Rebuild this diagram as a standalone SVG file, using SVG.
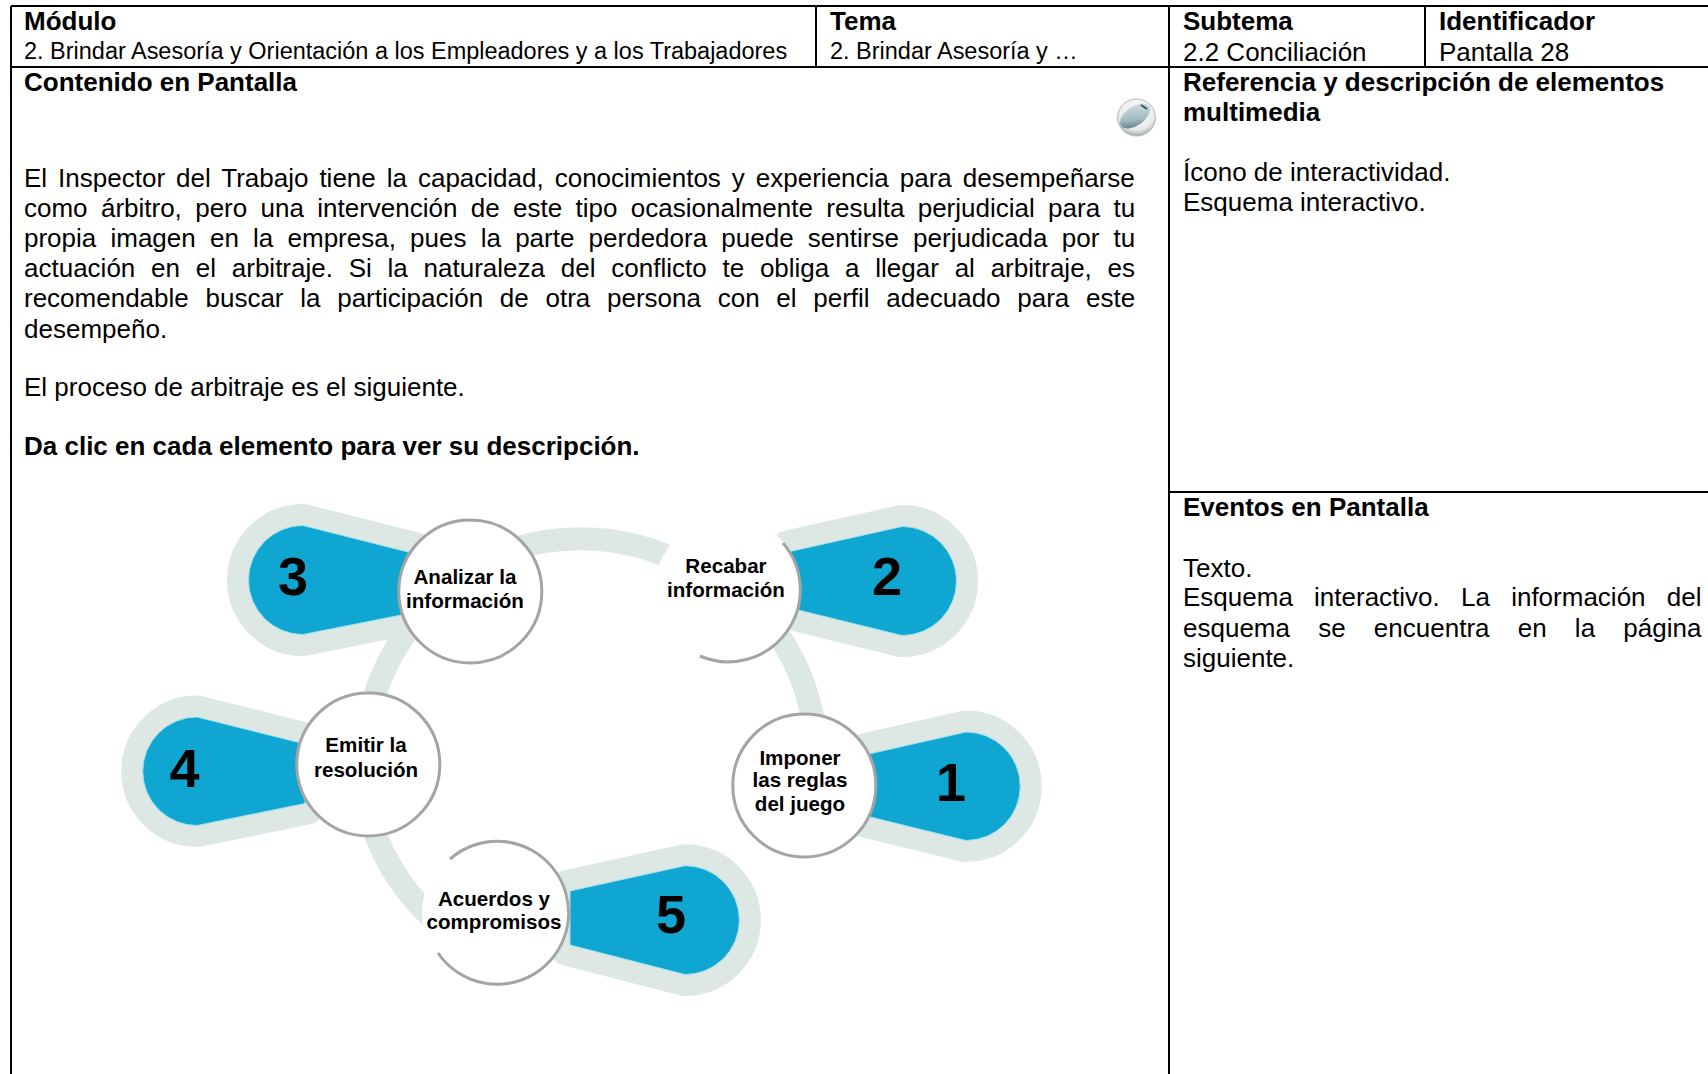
<svg xmlns="http://www.w3.org/2000/svg" width="1708" height="1074" viewBox="0 0 1708 1074">
<defs>
<radialGradient id="mouseBg" cx="50%" cy="35%" r="70%"><stop offset="0" stop-color="#ffffff"/><stop offset="0.7" stop-color="#e8eaea"/><stop offset="1" stop-color="#8f9494"/></radialGradient>
<linearGradient id="mouseBody" x1="1" y1="0" x2="0" y2="1"><stop offset="0" stop-color="#dbe6ea"/><stop offset="0.6" stop-color="#a3bac2"/><stop offset="1" stop-color="#45656f"/></linearGradient>
</defs>
<style>
text{font-family:"Liberation Sans",Arial,sans-serif;fill:#000}
.t{font-size:26px}
.s{font-size:23.47px}
.b{font-size:26px;font-weight:700}
.lab{font-size:20.6px;font-weight:700;text-anchor:middle}
.num{font-size:54px;font-weight:700;text-anchor:middle}
.grid{stroke:#000;stroke-width:2;fill:none}
.halo{fill:#dde8e4;stroke:#dde8e4;stroke-width:43;stroke-linejoin:round}
.blue{fill:#0fa7d1;stroke:#9fe0ee;stroke-width:1}
.disc{fill:#fff;stroke:#a4a4a4;stroke-width:3}
.bare{fill:#fff}
.rim{fill:none;stroke:#a4a4a4;stroke-width:3}
.ring{fill:none;stroke:#dde8e4;stroke-width:23}
</style>
<rect width="1708" height="1074" fill="#fff"/>
<g id="table" class="grid">
<path d="M11 6H1708M11 6V1074M816 6V67M1169 6V1074M1425 6V67M11 67H1708M1169 492H1708"/>
</g>
<g id="header">
<text class="b" x="24" y="30">Módulo</text>
<text class="s" x="24" y="59">2. Brindar Asesoría y Orientación a los Empleadores y a los Trabajadores</text>
<text class="b" x="830" y="30">Tema</text>
<text class="s" x="830" y="59">2. Brindar Asesoría y …</text>
<text class="b" x="1183" y="30">Subtema</text>
<text class="t" x="1183" y="61">2.2 Conciliación</text>
<text class="b" x="1439" y="30">Identificador</text>
<text class="t" x="1439" y="61">Pantalla 28</text>
</g>
<g id="contenido">
<text class="b" x="24" y="91">Contenido en Pantalla</text>
<text class="t" x="24" y="186.500" word-spacing="3.75">El Inspector del Trabajo tiene la capacidad, conocimientos y experiencia para desempeñarse</text>
<text class="t" x="24" y="216.700" word-spacing="6.12">como árbitro, pero una intervención de este tipo ocasionalmente resulta perjudicial para tu</text>
<text class="t" x="24" y="246.900" word-spacing="6.98">propia imagen en la empresa, pues la parte perdedora puede sentirse perjudicada por tu</text>
<text class="t" x="24" y="277.100" word-spacing="8.55">actuación en el arbitraje. Si la naturaleza del conflicto te obliga a llegar al arbitraje, es</text>
<text class="t" x="24" y="307.300" word-spacing="9.49">recomendable buscar la participación de otra persona con el perfil adecuado para este</text>
<text class="t" x="24" y="337.500">desempeño.</text>
<text class="t" x="24" y="396">El proceso de arbitraje es el siguiente.</text>
<text class="b" x="24" y="455">Da clic en cada elemento para ver su descripción.</text>
</g>
<g id="mouse-icon">
<ellipse cx="1136.500" cy="117.500" rx="19" ry="18.500" fill="url(#mouseBg)" stroke="#b5b9b9" stroke-width="1"/>
<ellipse cx="1135" cy="116" rx="17" ry="9.500" transform="rotate(-35 1135 116)" fill="url(#mouseBody)"/>
<path d="M1141 105l6 4" stroke="#39525a" stroke-width="2" fill="none"/>
</g>
<g id="referencia">
<text class="b" x="1183" y="91">Referencia y descripción de elementos</text>
<text class="b" x="1183" y="121">multimedia</text>
<text class="t" x="1183" y="180.500">Ícono de interactividad.</text>
<text class="t" x="1183" y="211">Esquema interactivo.</text>
</g>
<g id="eventos">
<text class="b" x="1183" y="516">Eventos en Pantalla</text>
<text class="t" x="1183" y="577">Texto.</text>
<text class="t" x="1183" y="605.500" word-spacing="14">Esquema interactivo. La información del</text>
<text class="t" x="1183" y="637" word-spacing="21">esquema se encuentra en la página</text>
<text class="t" x="1183" y="667">siguiente.</text>
</g>
<g id="connectors">
<path class="ring" d="M510 550A225 225 0 0 1 680 562"/>
<path class="ring" d="M775 630A225 225 0 0 1 814 725"/>
<path class="ring" d="M412 625A225 225 0 0 0 372 705"/>
<path class="ring" d="M372 825A225 225 0 0 0 440 925"/>
</g>
<g id="node-3">
<path class="halo" d="M303 525.500L414 553.500V612.500L303 634.500A54.500 54.500 0 0 1 303 525.500Z"/>
<path class="blue" d="M303 525.500L414 553.500V612.500L303 634.500A54.500 54.500 0 0 1 303 525.500Z"/>
<circle class="disc" cx="470.300" cy="591.400" r="71.500"/>
<text class="lab" x="465" y="584.300">Analizar la</text>
<text class="lab" x="465" y="608.100">información</text>
<text class="num" x="293" y="594.700">3</text>
</g>
<g id="node-4">
<path class="halo" d="M197 717L305 744V803.500L197 825.500A54.250 54.250 0 0 1 197 717Z"/>
<path class="blue" d="M197 717L305 744V803.500L197 825.500A54.250 54.250 0 0 1 197 717Z"/>
<circle class="disc" cx="368.300" cy="764.400" r="71.500"/>
<text class="lab" x="366" y="752.200">Emitir la</text>
<text class="lab" x="366" y="776.500">resolución</text>
<text class="num" x="184.500" y="786.800">4</text>
</g>
<g id="node-5">
<path class="halo" d="M685 865.700L570 891V945L685 974.500A54.400 54.400 0 0 0 685 865.700Z"/>
<path class="blue" d="M685 865.700L570 891V945L685 974.500A54.400 54.400 0 0 0 685 865.700Z"/>
<circle class="bare" cx="496" cy="913" r="74"/>
<path class="rim" d="M450 859A71.500 71.500 0 1 1 438 953"/>
<text class="lab" x="494" y="906.100">Acuerdos y</text>
<text class="lab" x="494" y="928.800">compromisos</text>
<text class="num" x="671" y="932.500">5</text>
</g>
<g id="node-2">
<path class="halo" d="M902 526.500L790 551.500V608L902 635.500A54.500 54.500 0 0 0 902 526.500Z"/>
<path class="blue" d="M902 526.500L790 551.500V608L902 635.500A54.500 54.500 0 0 0 902 526.500Z"/>
<circle class="bare" cx="728" cy="589.500" r="73"/>
<path class="rim" d="M783 543A72 72 0 0 1 700 656"/>
<text class="lab" x="726" y="573">Recabar</text>
<text class="lab" x="726" y="597.300">información</text>
<text class="num" x="887" y="594.700">2</text>
</g>
<g id="node-1">
<path class="halo" d="M966 732L860 756V814.500L966 840.500A54.250 54.250 0 0 0 966 732Z"/>
<path class="blue" d="M966 732L860 756V814.500L966 840.500A54.250 54.250 0 0 0 966 732Z"/>
<circle class="disc" cx="804.300" cy="785.400" r="71.500"/>
<text class="lab" x="800" y="764.600">Imponer</text>
<text class="lab" x="800" y="787.300">las reglas</text>
<text class="lab" x="800" y="810.600">del juego</text>
<text class="num" x="951" y="801.300">1</text>
</g>
</svg>
